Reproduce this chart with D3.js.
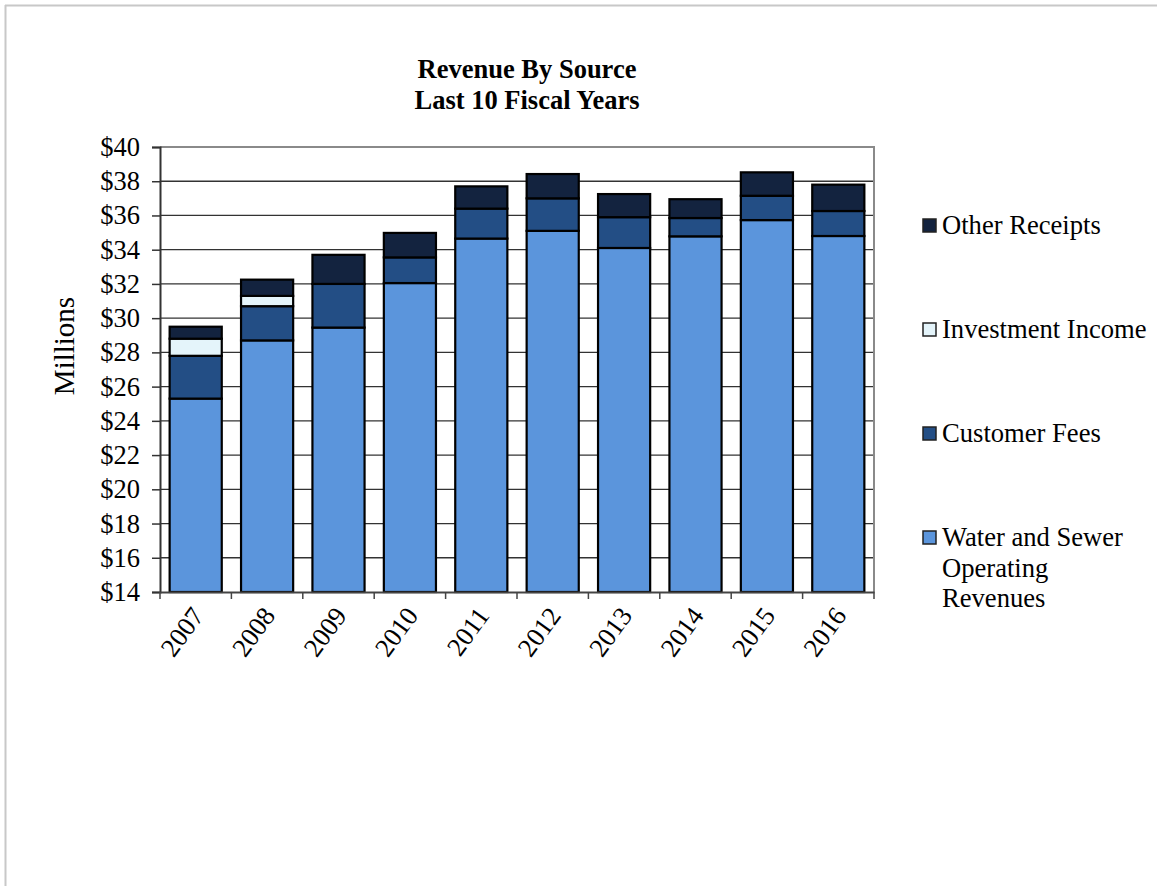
<!DOCTYPE html>
<html>
<head>
<meta charset="utf-8">
<script src="https://cdn.jsdelivr.net/npm/d3@7"></script>
<style>
  html, body { margin: 0; padding: 0; background: #fff; }
  svg { display: block; }
  text { font-family: "Liberation Serif", "Times New Roman", serif; fill: #000; }
</style>
</head>
<body>
<script>
const years = ["2007","2008","2009","2010","2011","2012","2013","2014","2015","2016"];
const water = [25.3, 28.7, 29.45, 32.05, 34.65, 35.1, 34.1, 34.78, 35.73, 34.8];
const customer = [2.5, 2.0, 2.55, 1.5, 1.75, 1.9, 1.8, 1.07, 1.42, 1.46];
const investment = [1.0, 0.6, 0, 0, 0, 0, 0, 0, 0, 0];
const other = [0.7, 0.95, 1.7, 1.43, 1.3, 1.42, 1.35, 1.1, 1.37, 1.54];
const yTicks = [14,16,18,20,22,24,26,28,30,32,34,36,38,40];
const seriesNames = ["Water and Sewer Operating Revenues", "Customer Fees", "Investment Income", "Other Receipts"];
const seriesColors = ["#5b95dc", "#234e85", "#e4f4fa", "#13233f"];

const W = 1157, H = 886;
const plot = {left: 160, right: 874, top: 147, bottom: 592};

const svg = d3.select("body").append("svg").attr("width", W).attr("height", H);
svg.append("rect").attr("width", W).attr("height", H).attr("fill", "#fff");

// outer frame
svg.append("line").attr("x1", 5.5).attr("x2", 5.5).attr("y1", 5).attr("y2", H).attr("stroke", "#c8c8c8").attr("stroke-width", 2);
svg.append("line").attr("x1", 5).attr("x2", W).attr("y1", 5.5).attr("y2", 5.5).attr("stroke", "#c8c8c8").attr("stroke-width", 2);

const x = d3.scaleBand().domain(years).range([plot.left, plot.right]).paddingInner(0.27).paddingOuter(0.135);
const y = d3.scaleLinear().domain([14, 40]).range([plot.bottom, plot.top]).clamp(true);

// gridlines
svg.append("g").selectAll("line").data(yTicks.filter(v => v > 14 && v < 40)).join("line")
  .attr("x1", plot.left).attr("x2", plot.right)
  .attr("y1", d => y(d)).attr("y2", d => y(d))
  .attr("stroke", "#333").attr("stroke-width", 1.3);

// plot frame top/right
svg.append("path")
  .attr("d", `M${plot.left},${plot.top}H${plot.right}V${plot.bottom}`)
  .attr("fill", "none").attr("stroke", "#8a8a8a").attr("stroke-width", 2);

// stacked data
const rows = years.map((yr, i) => ({year: yr, s0: water[i], s1: customer[i], s2: investment[i], s3: other[i]}));
const stack = d3.stack().keys(["s0","s1","s2","s3"]);
const stacked = stack(rows);

const g = svg.append("g");
stacked.forEach((layer, li) => {
  g.append("g").selectAll("rect").data(layer).join("rect")
    .attr("x", d => x(d.data.year))
    .attr("width", x.bandwidth())
    .attr("y", d => y(d[1]))
    .attr("height", d => Math.max(0, y(d[0]) - y(d[1])))
    .attr("fill", seriesColors[li])
    .attr("stroke", "#000").attr("stroke-width", 2.2);
});

// y axis
const yAxis = d3.axisLeft(y).tickValues(yTicks).tickFormat(d => "$" + d).tickSize(8).tickPadding(12);
const ya = svg.append("g").attr("transform", `translate(${plot.left},0)`).call(yAxis)
  .attr("font-family", "Liberation Serif").attr("font-size", 26.5);
ya.select(".domain").attr("stroke", "#333").attr("stroke-width", 2);
ya.selectAll(".tick line").attr("stroke", "#333").attr("stroke-width", 1.5);
ya.selectAll(".tick text").attr("font-size", 26.5).attr("fill", "#000");

// x axis
const xAxis = d3.axisBottom(x).tickSize(0).tickPadding(0);
const xa = svg.append("g").attr("transform", `translate(0,${plot.bottom})`).call(xAxis)
  .attr("font-family", "Liberation Serif").attr("font-size", 26);
xa.select(".domain").attr("stroke", "#444").attr("stroke-width", 2);
// category boundary ticks
const bounds = years.map(yr => x(yr) - x.step() * x.paddingInner() / 2).concat([plot.right]);
xa.append("g").selectAll("line").data(bounds).join("line")
  .attr("x1", d => d).attr("x2", d => d).attr("y1", 0).attr("y2", 7)
  .attr("stroke", "#444").attr("stroke-width", 1.5);
xa.selectAll(".tick text")
  .attr("font-size", 26.5).attr("fill", "#000")
  .attr("text-anchor", "end")
  .attr("transform", "translate(-4,14) rotate(-54)")
  .attr("dy", "0.62em");

// title
svg.append("text").attr("x", 527).attr("y", 78).attr("text-anchor", "middle")
  .attr("font-size", 26.5).attr("font-weight", "bold").text("Revenue By Source");
svg.append("text").attr("x", 527).attr("y", 109).attr("text-anchor", "middle")
  .attr("font-size", 26.5).attr("font-weight", "bold").text("Last 10 Fiscal Years");

// y title
svg.append("text").attr("transform", "translate(74,346) rotate(-90)").attr("text-anchor", "middle")
  .attr("font-size", 29).text("Millions");

// legend
const legendItems = [
  {idx: 3, y: 234, lines: ["Other Receipts"]},
  {idx: 2, y: 338, lines: ["Investment Income"]},
  {idx: 1, y: 442, lines: ["Customer Fees"]},
  {idx: 0, y: 546, lines: ["Water and Sewer", "Operating", "Revenues"]}
];
const lg = svg.append("g");
legendItems.forEach(it => {
  lg.append("rect").attr("x", 923).attr("y", it.y - 15).attr("width", 13).attr("height", 13)
    .attr("fill", seriesColors[it.idx]).attr("stroke", "#222").attr("stroke-width", 1.5);
  const t = lg.append("text").attr("x", 942).attr("y", it.y).attr("font-size", 26.6);
  it.lines.forEach((ln, k) => {
    t.append("tspan").attr("x", 942).attr("dy", k === 0 ? 0 : 30.5).text(ln);
  });
});
</script>
</body>
</html>
